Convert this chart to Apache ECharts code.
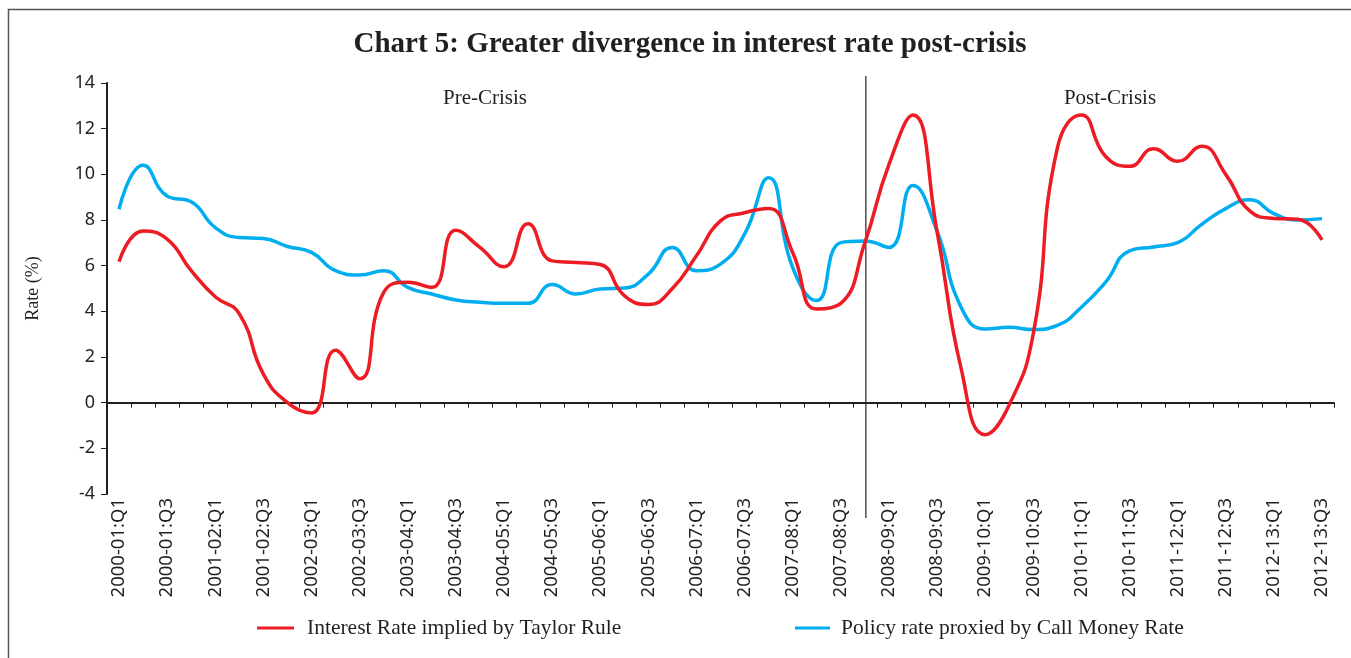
<!DOCTYPE html>
<html>
<head>
<meta charset="utf-8">
<script src="https://cdn.jsdelivr.net/npm/echarts@6/dist/echarts.min.js"></script>
<style>
  html, body { margin: 0; padding: 0; background: #fff; }
  #chart { width: 1351px; height: 658px; }
</style>
</head>
<body>
<div id="chart"></div>
<script>
// quarters 2000-01:Q1 .. 2012-13:Q3
const years = ['2000-01', '2001-02', '2002-03', '2003-04', '2004-05', '2005-06', '2006-07',
  '2007-08', '2008-09', '2009-10', '2010-11', '2011-12', '2012-13'];
const quarters = [];
years.forEach(y => ['Q1', 'Q2', 'Q3', 'Q4'].forEach(q => quarters.push(y + ':' + q)));
quarters.pop(); // series ends at 2012-13:Q3

const taylorRate = [6.17, 7.52, 7.16, 5.78, 4.64, 3.89, 1.25, 0.0, -0.45, 2.3,
  1.05, 4.83, 5.27, 5.05, 7.55, 6.8, 5.95, 7.84, 6.21, 6.14,
  6.05, 4.69, 4.3, 5.0, 6.43, 7.96, 8.32, 8.5, 6.58, 4.1,
  4.35, 7.0, 10.43, 12.6, 7.5, 1.5, -1.4, -0.1, 3.02, 11.15,
  12.6, 10.79, 10.35, 11.12, 10.57, 11.23, 10.0, 8.4, 8.07, 8.03,
  7.13];

const callMoneyRate = [8.47, 10.4, 9.05, 8.8, 7.67, 7.23, 7.19, 6.84, 6.58, 5.78,
  5.59, 5.78, 5.05, 4.76, 4.5, 4.4, 4.35, 4.35, 5.17, 4.76,
  4.98, 5.02, 5.63, 6.8, 5.78, 6.07, 7.38, 9.85, 5.92, 4.47,
  7.01, 7.08, 6.8, 9.51, 7.52, 4.18, 3.23, 3.3, 3.2, 3.38,
  4.18, 5.27, 6.65, 6.82, 7.01, 7.81, 8.5, 8.89, 8.28, 8.0,
  8.06];

const crisisQuarter = '2007-08:Q4';
const seriesNames = ['Interest Rate implied by Taylor Rule', 'Policy rate proxied by Call Money Rate'];

const ink = '#231f20';
const serif = '"Liberation Serif", "DejaVu Serif", serif';
const sans = '"Noto Sans", "DejaVu Sans", sans-serif';

const chart = echarts.init(document.getElementById('chart'), null, { renderer: 'canvas' });

const option = {
  animation: false,
  backgroundColor: '#fff',
  title: {
    text: 'Chart 5: Greater divergence in interest rate post-crisis',
    left: 685,
    textAlign: 'center',
    top: 25,
    textStyle: { fontFamily: serif, fontSize: 29, fontWeight: 'bold', color: ink }
  },
  legend: [
    {
      data: [seriesNames[0]],
      left: 257, top: 617, padding: 0,
      icon: 'rect', itemWidth: 37, itemHeight: 3,
      textStyle: { fontFamily: serif, fontSize: 21.5, color: ink, padding: [0, 0, 0, 8] }
    },
    {
      data: [seriesNames[1]],
      left: 795, top: 617, padding: 0,
      icon: 'rect', itemWidth: 35, itemHeight: 3,
      textStyle: { fontFamily: serif, fontSize: 21.5, color: ink, padding: [0, 0, 0, 6] }
    }
  ],
  grid: { left: 107, right: 17, top: 83, bottom: 164, containLabel: false },
  xAxis: [
    {
      type: 'category',
      data: quarters,
      boundaryGap: true,
      axisLine: { onZero: true, lineStyle: { color: ink, width: 2 } },
      axisTick: { show: true, interval: 0, inside: false, length: 5, lineStyle: { color: ink, width: 1 } },
      axisLabel: { show: false },
      splitLine: { show: false }
    },
    {
      type: 'category',
      data: quarters,
      boundaryGap: true,
      position: 'bottom',
      axisLine: { show: false, onZero: false },
      axisTick: { show: false },
      axisLabel: {
        interval: 1,
        rotate: 90,
        margin: 4,
        fontFamily: sans,
        fontSize: 18.5,
        color: ink
      },
      splitLine: { show: false }
    }
  ],
  yAxis: {
    type: 'value',
    min: -4,
    max: 14,
    interval: 2,
    name: 'Rate (%)',
    nameLocation: 'middle',
    nameGap: 65,
    nameTextStyle: { fontFamily: serif, fontSize: 18, color: ink },
    axisLine: { show: true, lineStyle: { color: ink, width: 2 } },
    axisTick: { show: true, inside: false, length: 6, lineStyle: { color: ink, width: 1 } },
    axisLabel: { margin: 12, fontFamily: sans, fontSize: 18, color: ink },
    splitLine: { show: false }
  },
  series: [
    {
      name: seriesNames[0],
      type: 'line',
      data: taylorRate,
      smooth: true,
      showSymbol: false,
      symbol: 'none',
      color: '#ed1c24',
      lineStyle: { color: '#ed1c24', width: 3.5 },
      z: 3
    },
    {
      name: seriesNames[1],
      type: 'line',
      data: callMoneyRate,
      smooth: true,
      showSymbol: false,
      symbol: 'none',
      color: '#00aeef',
      lineStyle: { color: '#00aeef', width: 3.5 },
      z: 2
    }
  ]
};

chart.setOption(option);

// Crisis divider and region labels, placed through the axis scales
const crisisX = chart.convertToPixel({ xAxisIndex: 0 }, crisisQuarter);
const labelY = chart.convertToPixel({ yAxisIndex: 0 }, 13.3);
chart.setOption({
  graphic: [
    {
      type: 'rect',
      silent: true,
      shape: { x: 8.5, y: 9.5, width: 1400, height: 700 },
      style: { fill: 'none', stroke: '#555', lineWidth: 1.5 }
    },
    {
      type: 'line',
      silent: true,
      shape: { x1: crisisX + 1, y1: 76, x2: crisisX + 1, y2: 518 },
      style: { stroke: ink, lineWidth: 1.2 }
    },
    {
      type: 'text',
      silent: true,
      x: 485, y: labelY,
      style: { text: 'Pre-Crisis', font: '21px ' + serif, fill: ink, align: 'center', verticalAlign: 'middle' }
    },
    {
      type: 'text',
      silent: true,
      x: 1110, y: labelY,
      style: { text: 'Post-Crisis', font: '21px ' + serif, fill: ink, align: 'center', verticalAlign: 'middle' }
    }
  ]
});
</script>
</body>
</html>
